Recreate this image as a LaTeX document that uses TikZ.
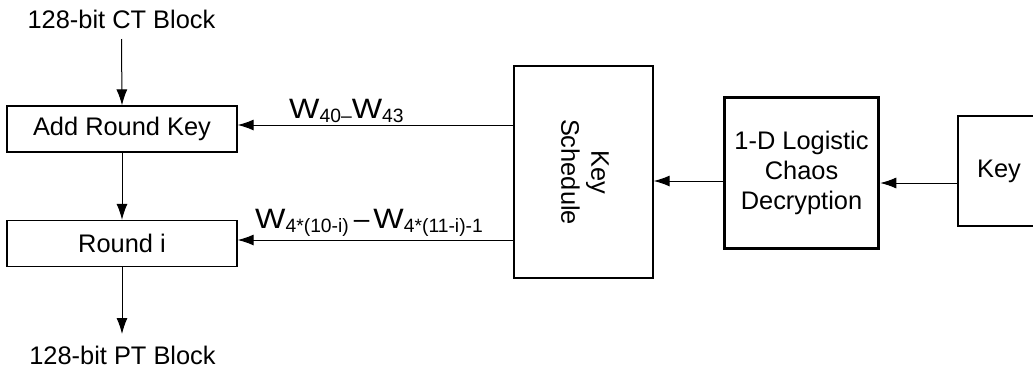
\documentclass[tikz,border=0pt]{standalone}
\usepackage{fontspec}
\usepackage{graphicx}
\setmainfont{Liberation Sans}
\usetikzlibrary{arrows.meta}
\newcommand{\mainsz}{\fontsize{25.4}{30}\selectfont}
\newcommand{\wsz}{\fontsize{28}{30}\selectfont}
\newcommand{\subsz}{\fontsize{19.3}{22}\selectfont}
\newcommand{\WW}{{\wsz\scalebox{1.15}[1]{W}}}
\newcommand{\SB}[1]{{\subsz\raisebox{-4pt}{#1}}}
\tikzset{
  box/.style={draw, line width=1.3pt, inner sep=0pt, font=\mainsz, align=center},
  thickbox/.style={box, line width=3.5pt},
  txt/.style={inner sep=0pt, font=\mainsz},
  arr/.style={line width=1pt, -{Latex[length=16pt,width=11pt]}},
}
\begin{document}
\begin{tikzpicture}[x=1pt,y=-1pt]
\clip (0,0) rectangle (1033,370);
\fill[white] (0,0) rectangle (1033,370);
% left column
\node[txt, anchor=base] (ct) at (121.5,28) {128-bit CT Block};
\node[box, minimum width=230pt, minimum height=46pt] (ark) at (122,129) {Add Round Key};
\node[box, minimum width=230pt, minimum height=46pt] (ri) at (122,243.5) {Round i};
\node[txt, anchor=base] (pt) at (122.5,364) {128-bit PT Block};
\coordinate (ptin) at (122,334);
% right part
\node[box, minimum width=139pt, minimum height=212pt] (ks) at (583.5,172) {};
\node[txt, rotate=-90, align=center] (kslab) at (585,172) {Key\\Schedule};
\node[thickbox, minimum width=154pt, minimum height=151pt] (chaos) at (801.5,173) {1-D Logistic\\Chaos\\Decryption};
\node[box, minimum width=82pt, minimum height=110pt] (key) at (999,171) {Key};
% labels
\node[inner sep=0pt, anchor=base west] (l1) at (289,118) {\WW\SB{40–}\WW\SB{43}};
\node[inner sep=0pt, anchor=base west] (l2) at (255,228) {\WW\SB{4*(10-i)}\hspace{5pt}{\wsz –}\hspace{4pt}\WW\SB{4*(11-i)-1}};
% connectors
\draw[line width=1pt, -{Latex[length=16pt,width=11pt]}] (ct.south |- 0,39) -- (ark.north);
\draw[arr] (ark.south) -- (ri.north);
\draw[arr] (ri.south) -- (ptin);
\draw[arr] (ks.west |- 0,125) -- (ark.east |- 0,125);
\draw[arr] (ks.west |- 0,240) -- (ri.east |- 0,240);
\draw[arr] (chaos.west |- 0,181) -- (ks.east |- 0,181);
\draw[arr] (key.west |- 0,183) -- (chaos.east |- 0,183);
\end{tikzpicture}
\end{document}
